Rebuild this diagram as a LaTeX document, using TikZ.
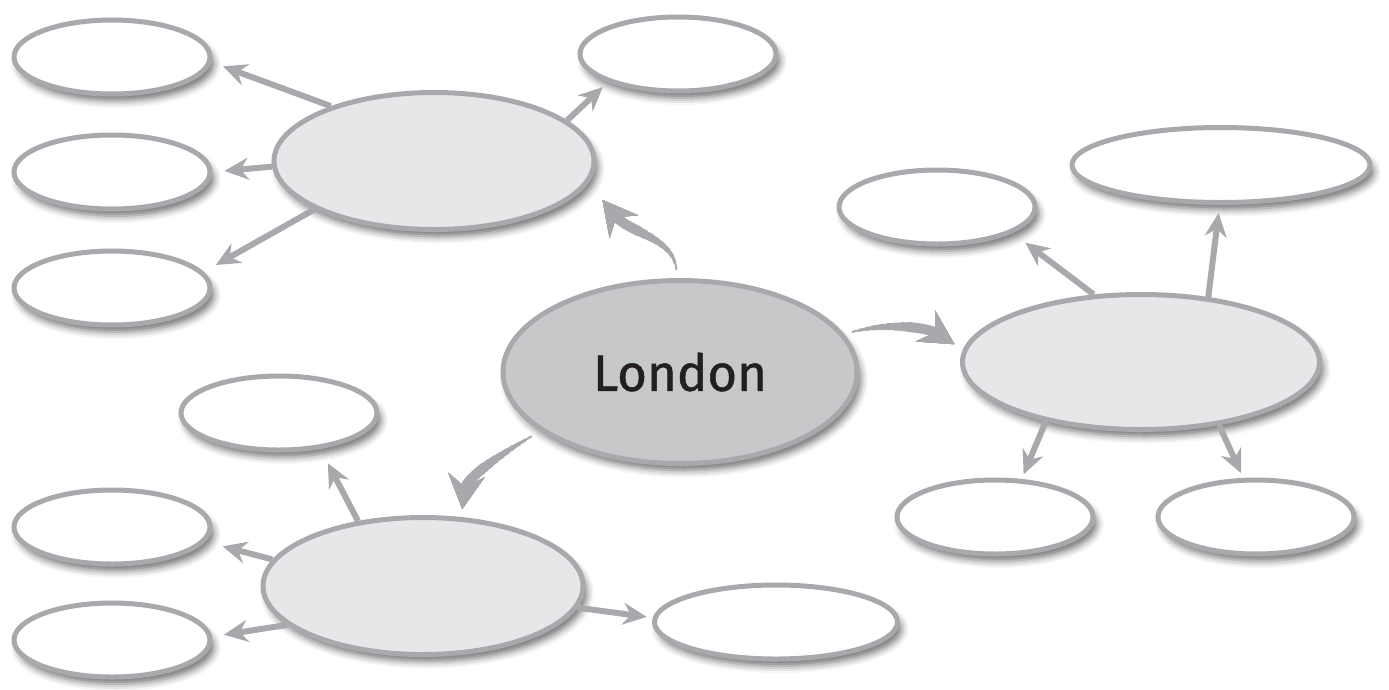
\documentclass[tikz,border=0pt]{standalone}
\usepackage{fontspec}
\setmainfont{Fira Sans}
\usetikzlibrary{shapes.geometric,arrows.meta,shadows.blur}
\definecolor{edge}{HTML}{A7A9AC}
\definecolor{hubfill}{HTML}{E6E7E8}
\definecolor{mainfill}{HTML}{C7C8CA}
\definecolor{ink}{HTML}{231F20}
\begin{document}
\begin{tikzpicture}[x=1pt,y=-1pt,
  bubble/.style={ellipse, draw=edge, line width=5pt, fill=white, inner sep=0pt,
    blur shadow={shadow xshift=4pt, shadow yshift=-7pt, shadow blur radius=7pt, shadow opacity=55}},
  leaf/.style={bubble, minimum width=196pt, minimum height=74pt},
  hub/.style={bubble, fill=hubfill, minimum width=320pt, minimum height=137pt},
  link/.style={draw=edge, line width=6pt, -{Stealth[length=24pt,width=22pt,inset=8pt]}},
  swoop/.style={draw=edge, -{Stealth[length=34pt,width=36pt,inset=12pt]}},
]
\useasboundingbox (0,0) rectangle (1389,689);

% hubs and leaves
\node[hub] (A) at (434,161) {};
\node[leaf] (A1) at (112,57) {};
\node[leaf] (A2) at (112,172) {};
\node[leaf] (A3) at (112,288) {};
\node[leaf] (A4) at (678,54) {};

\node[hub, minimum width=357pt, minimum height=135pt] (C) at (1141,362) {};
\node[leaf] (C1) at (937,207) {};
\node[leaf, minimum width=298pt, minimum height=75pt] (C2) at (1221,165) {};
\node[leaf] (C3) at (995,517) {};
\node[leaf] (C4) at (1256,517) {};

\node[hub] (B) at (423,586) {};
\node[leaf] (B1) at (279,413) {};
\node[leaf] (B2) at (112,527) {};
\node[leaf] (B3) at (112,640) {};
\node[leaf, minimum width=243pt] (B4) at (776,622) {};

\node[bubble, fill=mainfill, minimum width=354pt, minimum height=183pt,
  text=ink, font=\fontsize{51}{60}\selectfont\addfontfeature{FakeBold=1}] (L) at (680,372) {London};

% straight links
\draw[link, shorten >=12pt] (A.152) -- (A1.-3);
\draw[link, shorten >=12pt] (A.182) -- (A2.0);
\draw[link, shorten >=14pt] (A.202) -- (A3.10);
\draw[link, shorten >=7pt] (A.17) -- (A4.202);

\draw[link, shorten >=16pt] (C.125) -- (C1.-19);
\draw[link, shorten >=8pt] (C.44) -- (C2.-92);
\draw[link, shorten >=5pt] (C.212) -- (C3.55);
\draw[link, shorten >=5pt] (C.-39) -- (C4.108);

\draw[link, shorten >=16pt] (B.135) -- (B1.-41);
\draw[link, shorten >=18pt] (B.170) -- (B2.-9);
\draw[link, shorten >=12pt] (B.196) -- (B3.2);
\draw[link, shorten >=6pt] (B.-8) -- (B4.178);

% curved, tapered links from London (stacked strokes, each starting further along)
\foreach \w/\o in {2/0.01,3/7,4/14,5/21,6/28,7/35,8/42,9/49,10/56}{
  \draw[swoop, line width=\w pt, dash pattern=on 0pt off \o pt on 3000pt, shorten <=8pt, shorten >=22pt]
    (L.92) .. controls +(-2,-40) and +(40,50) .. (A.-8);
  \draw[swoop, line width=\w pt, dash pattern=on 0pt off \o pt on 3000pt, shorten <=8pt, shorten >=10pt]
    (L.13) .. controls +(45,-12) and +(-35,-22) .. (C.176);
  \draw[swoop, line width=\w pt, dash pattern=on 0pt off \o pt on 3000pt, shorten <=10pt, shorten >=8pt]
    (L.203) .. controls +(-35,20) and +(5,-40) .. (B.61);
}
\end{tikzpicture}
\end{document}
